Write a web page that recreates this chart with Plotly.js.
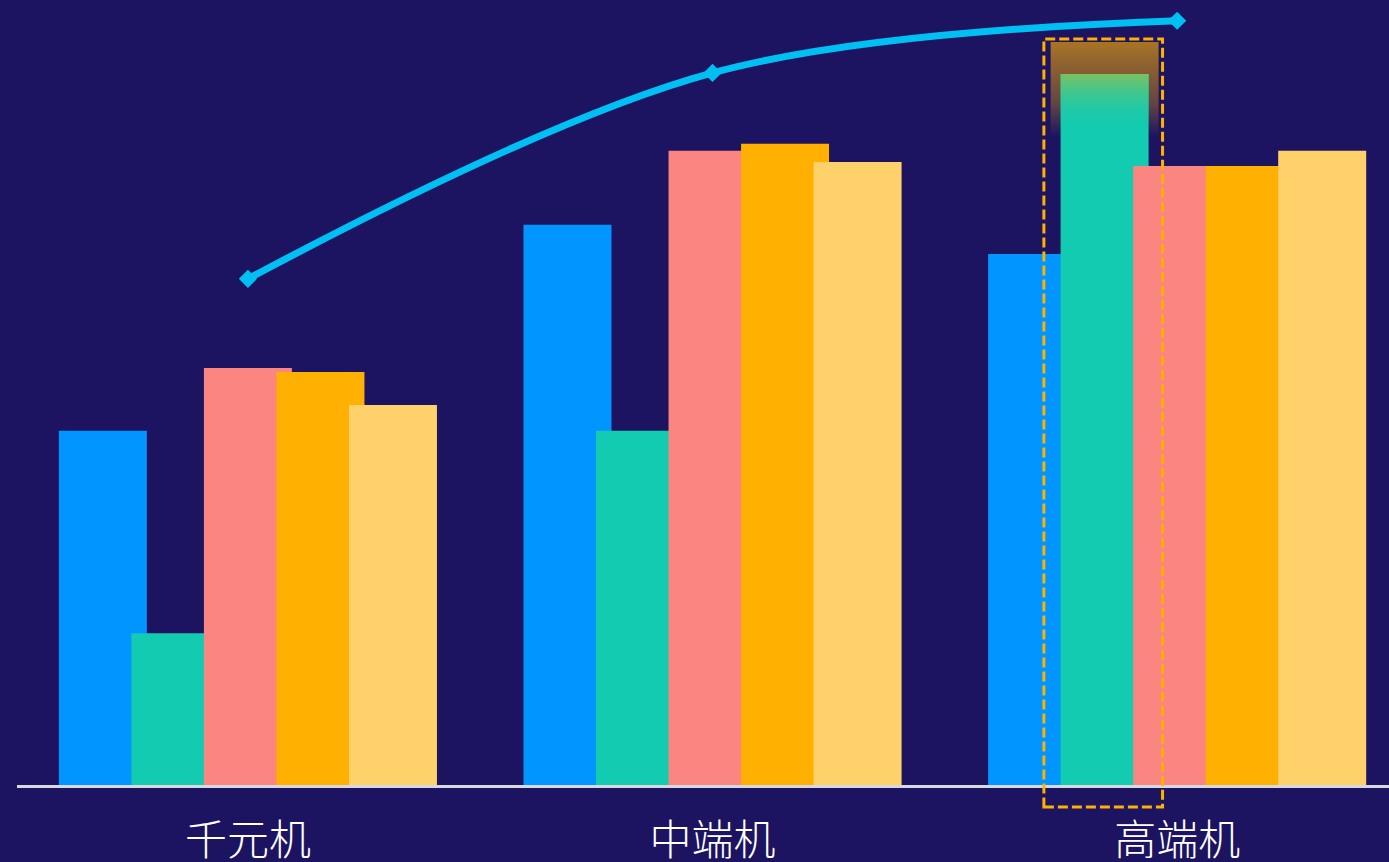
<!DOCTYPE html>
<html>
<head>
<meta charset="utf-8">
<script src="https://cdn.plot.ly/plotly-3.0.1.min.js"></script>
<style>
  html, body { margin: 0; padding: 0; background: #1c1461; }
  #chart { width: 1389px; height: 862px; }
</style>
</head>
<body>
<div id="chart"></div>
<script>
// ---- data ----
const categories = ['千元机', '中端机', '高端机'];
const seriesNames = ['系列一', '系列二', '系列三', '系列四', '系列五'];
const seriesBlue   = [7.0, 11.07, 10.49];
const seriesTeal   = [3.0, 7.0, 14.05];
const seriesPink   = [8.24, 12.53, 12.23];
const seriesOrange = [8.16, 12.67, 12.23];
const seriesYellow = [7.51, 12.31, 12.53];
const lineValues   = [10.0, 14.07, 15.1];
const highlightIndex = 2;   // 高端机, teal series

// ---- styling ----
const BG = '#1c1461';
const colors = ['#0095ff', '#13cbb0', '#fa8581', '#ffb000', '#ffd16a'];
const lineColor = '#00bff3';
const BAR_W = 0.1894;
const STEP = 0.1561;
const FIRST_OFF = -0.4069;
const Y_MAX = 15.51;
const PLOT_H = 785;

const xs = categories.map((c, i) => i);
const allSeries = [seriesBlue, seriesTeal, seriesPink, seriesOrange, seriesYellow];

const traces = [];

// halo behind highlighted bar
const tealOff = FIRST_OFF + STEP * 1;
const hx0 = highlightIndex + tealOff;
const hx1 = hx0 + BAR_W;
const hv = seriesTeal[highlightIndex];
traces.push({
  type: 'scatter', mode: 'none', fill: 'toself', zorder: -1,
  x: [hx0 - 0.0215, hx1 + 0.0215, hx1 + 0.0215, hx0 - 0.0215, hx0 - 0.0215],
  y: [hv - 1.25, hv - 1.25, hv + 0.63, hv + 0.63, hv - 1.25],
  fillgradient: {type: 'vertical', colorscale: [[0, 'rgba(168,116,36,0)'], [0.35, 'rgba(168,116,36,0.5)'], [1, 'rgba(168,116,36,1)']]},
  hoverinfo: 'skip', showlegend: false
});

allSeries.forEach((vals, k) => {
  traces.push({
    type: 'bar', name: seriesNames[k], x: xs, y: vals,
    width: BAR_W, offset: FIRST_OFF + STEP * k,
    marker: {color: colors[k], line: {width: 0}},
    showlegend: false
  });
});

// gradient on top of highlighted bar
traces.push({
  type: 'scatter', mode: 'none', fill: 'toself', zorder: 1,
  x: [hx0, hx1, hx1, hx0, hx0],
  y: [hv - 1.1, hv - 1.1, hv, hv, hv - 1.1],
  fillgradient: {type: 'vertical', colorscale: [[0, 'rgba(19,203,176,0)'], [1, 'rgba(124,192,96,1)']]},
  hoverinfo: 'skip', showlegend: false
});

// line
traces.push({
  type: 'scatter', mode: 'lines+markers', x: xs, y: lineValues, zorder: 2,
  line: {color: lineColor, width: 7, shape: 'spline', smoothing: 1},
  marker: {symbol: 'diamond', size: 14, color: lineColor},
  cliponaxis: false, showlegend: false
});

const layout = {
  width: 1389, height: 862,
  paper_bgcolor: BG, plot_bgcolor: BG,
  margin: {l: 17, r: 0, t: 0, b: 862 - PLOT_H},
  barmode: 'overlay',
  showlegend: false,
  font: {family: '"Noto Sans CJK SC", "Noto Sans", sans-serif', color: '#ffffff'},
  xaxis: {
    type: 'linear', range: [-0.497, 2.456],
    tickmode: 'array', tickvals: xs, ticktext: categories,
    showgrid: false, zeroline: false, showline: false,
    ticks: '', ticklabelstandoff: 27,
    tickfont: {size: 42, color: '#ffffff', weight: 300, family: '"Noto Sans CJK SC", sans-serif'},
    fixedrange: true
  },
  yaxis: {range: [0, Y_MAX], visible: false, showgrid: false, zeroline: false, fixedrange: true},
  shapes: [
    {
      type: 'line', xref: 'paper', yref: 'paper', layer: 'above',
      x0: 0, x1: 1, y0: -1.5 / PLOT_H, y1: -1.5 / PLOT_H,
      line: {color: '#d8d8e0', width: 3}
    },
    {
      type: 'rect', xref: 'x', yref: 'paper', layer: 'above',
      x0: hx0 - 0.036, x1: hx1 + 0.03,
      y0: -22 / PLOT_H, y1: (hv + 0.69) / Y_MAX,
      line: {color: '#ffb000', width: 3, dash: '10px,4px'},
      fillcolor: 'rgba(0,0,0,0)'
    }
  ]
};

Plotly.newPlot('chart', traces, layout, {displayModeBar: false, staticPlot: true});
</script>
</body>
</html>
